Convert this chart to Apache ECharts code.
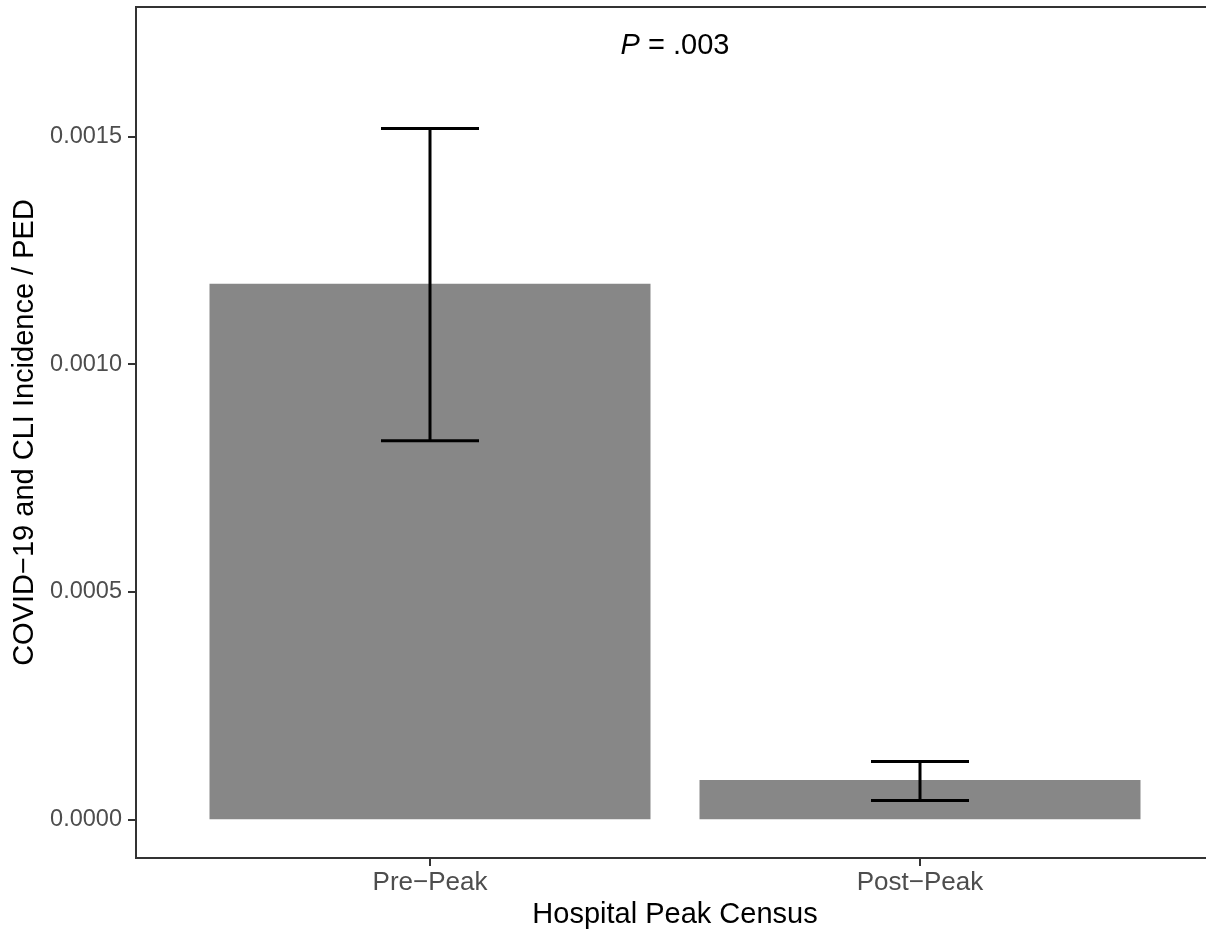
<!DOCTYPE html>
<html>
<head>
<meta charset="utf-8">
<script src="https://cdn.jsdelivr.net/npm/echarts@6/dist/echarts.min.js"></script>
<style>
html,body{margin:0;padding:0;background:#fff;}
#chart{width:1206px;height:933px;}
</style>
</head>
<body>
<div id="chart"></div>
<script>
// ---- data ----
var categories = ['Pre\u2212Peak', 'Post\u2212Peak'];
var means = [0.001177, 0.0000862];
var lowers = [0.000832, 0.0000413];
var uppers = [0.001518, 0.000127];
var yTicks = [0, 0.0005, 0.0010, 0.0015];
var xTicks = [1, 2];
var annotation = {x: 1.5, y: 0.0017, label: '.003'};

var FONT = "'Liberation Sans', Arial, Helvetica, sans-serif";
var chart = echarts.init(document.getElementById('chart'), null, {renderer: 'canvas'});

var barData = means.map(function (m, i) { return [i + 1, m]; });
var errData = means.map(function (m, i) { return [i + 1, lowers[i], uppers[i]]; });

var option = {
  backgroundColor: '#ffffff',
  animation: false,
  grid: {
    left: 136, width: 1078, top: 7, bottom: 75,
    containLabel: false, outerBoundsMode: 'none',
    show: true, borderColor: '#333333', borderWidth: 2, backgroundColor: 'transparent'
  },
  xAxis: {
    type: 'value', min: 0.4, max: 2.6,
    name: 'Hospital Peak Census', nameLocation: 'middle', nameGap: 42,
    nameTextStyle: {fontFamily: FONT, fontSize: 29, color: '#000'},
    axisLine: {show: true, onZero: false, lineStyle: {color: '#333333', width: 2}},
    axisTick: {show: true, length: 8, lineStyle: {color: '#333333', width: 2}, customValues: xTicks},
    axisLabel: {
      show: true, margin: 12, fontFamily: FONT, fontSize: 26, color: '#4d4d4d',
      customValues: xTicks,
      formatter: function (v) { return categories[Math.round(v) - 1]; }
    },
    splitLine: {show: false}
  },
  yAxis: {
    type: 'value', min: -0.000085, max: 0.001785,
    name: 'COVID\u221219 and CLI Incidence / PED', nameLocation: 'middle', nameGap: 94, nameRotate: 90,
    nameTextStyle: {fontFamily: FONT, fontSize: 29, color: '#000'},
    axisLine: {show: true, onZero: false, lineStyle: {color: '#333333', width: 2}},
    axisTick: {show: true, length: 8, lineStyle: {color: '#333333', width: 2}, customValues: yTicks},
    axisLabel: {
      show: true, margin: 14, fontFamily: FONT, fontSize: 23.5, color: '#4d4d4d',
      customValues: yTicks,
      formatter: function (v) { return v.toFixed(4); }
    },
    splitLine: {show: false}
  },
  series: [
    {
      type: 'custom',
      data: barData,
      renderItem: function (params, api) {
        var x = api.value(0), y = api.value(1);
        var p1 = api.coord([x - 0.45, y]);
        var p2 = api.coord([x + 0.45, 0]);
        return {
          type: 'rect',
          shape: {x: p1[0], y: p1[1], width: p2[0] - p1[0], height: p2[1] - p1[1]},
          style: {fill: '#878787'}
        };
      }
    },
    {
      type: 'custom',
      data: errData,
      z: 3,
      renderItem: function (params, api) {
        var x = api.value(0), lo = api.value(1), hi = api.value(2);
        var top = api.coord([x, hi]);
        var bot = api.coord([x, lo]);
        var tl = api.coord([x - 0.1, hi]);
        var tr = api.coord([x + 0.1, hi]);
        var bl = api.coord([x - 0.1, lo]);
        var br = api.coord([x + 0.1, lo]);
        var st = {stroke: '#000', lineWidth: 3, fill: null};
        return {
          type: 'group',
          children: [
            {type: 'line', shape: {x1: top[0], y1: top[1], x2: bot[0], y2: bot[1]}, style: st},
            {type: 'line', shape: {x1: tl[0], y1: tl[1], x2: tr[0], y2: tr[1]}, style: st},
            {type: 'line', shape: {x1: bl[0], y1: bl[1], x2: br[0], y2: br[1]}, style: st}
          ]
        };
      }
    },
    {
      type: 'custom',
      data: [[annotation.x, annotation.y]],
      z: 4,
      renderItem: function (params, api) {
        var p = api.coord([api.value(0), api.value(1)]);
        return {
          type: 'text',
          style: {
            x: p[0], y: p[1],
            text: '{i|P} = ' + annotation.label,
            align: 'center', verticalAlign: 'middle',
            fill: '#000', fontFamily: FONT, fontSize: 29,
            rich: {i: {fontStyle: 'italic', fontFamily: FONT, fontSize: 29, fill: '#000'}}
          }
        };
      }
    }
  ]
};
chart.setOption(option);
</script>
</body>
</html>
